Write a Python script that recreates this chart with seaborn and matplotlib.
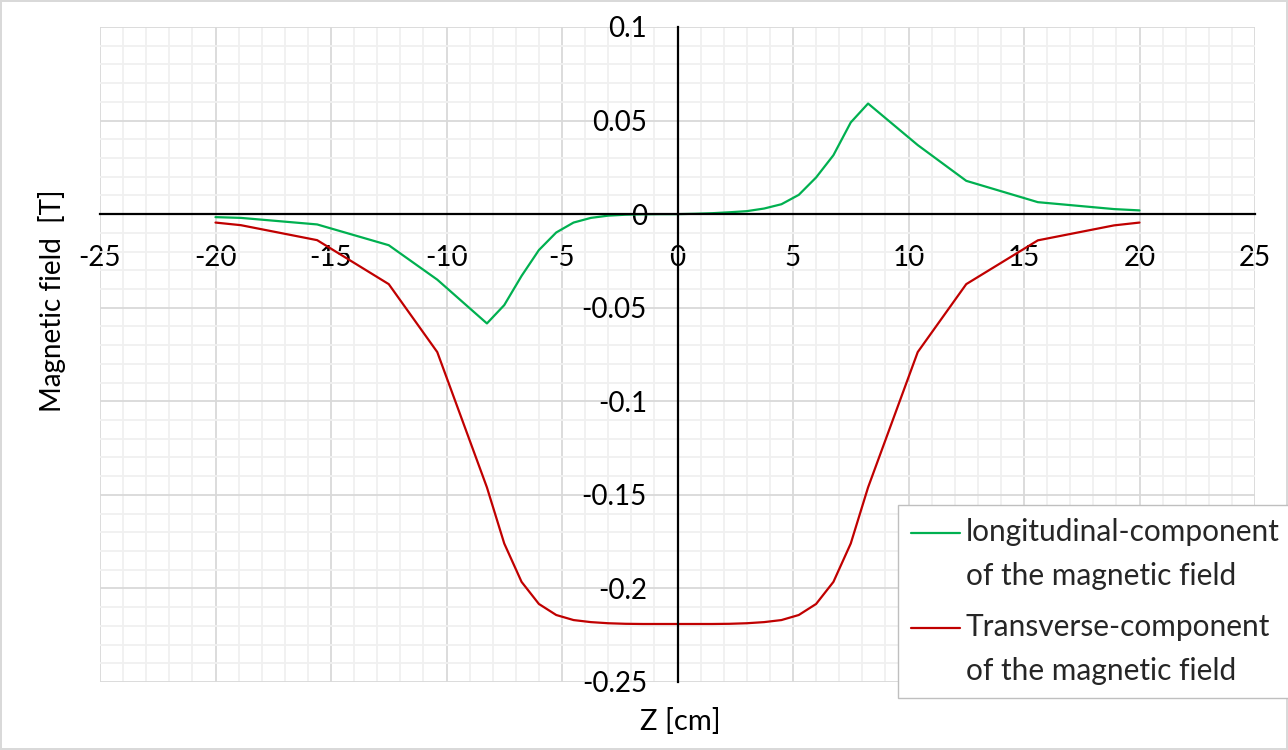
import matplotlib
matplotlib.use("Agg")
import matplotlib.pyplot as plt
from matplotlib.ticker import MultipleLocator, FuncFormatter
from matplotlib.legend_handler import HandlerLine2D
import pandas as pd
import seaborn as sns

# Axial position along the magnet [cm]
z_cm = [-20, -18.9, -15.6, -12.5, -10.4, -8.25, -7.5, -6.75, -6.0, -5.25, -4.5,
        -3.75, -3.0, -2.25, -1.5, -0.75, 0, 0.75, 1.5, 2.25, 3.0, 3.75, 4.5,
        5.25, 6.0, 6.75, 7.5, 8.25, 10.4, 12.5, 15.6, 18.9, 20]

# Longitudinal component of the field [T]
b_long = [-0.0016, -0.0020, -0.0055, -0.0166, -0.0350, -0.0584, -0.0486, -0.0330,
          -0.0192, -0.0098, -0.0045, -0.0020, -0.0008, -0.0003, -0.0001, 0.0, 0.0,
          0.0002, 0.0005, 0.0010, 0.0016, 0.0030, 0.0053, 0.0103, 0.0196, 0.0315,
          0.0490, 0.0591, 0.0369, 0.0178, 0.0064, 0.0027, 0.0020]

# Transverse component of the field [T]
b_trans = [-0.0045, -0.0059, -0.0139, -0.0374, -0.0737, -0.1460, -0.1760, -0.1965,
           -0.2083, -0.2142, -0.2169, -0.2180, -0.2186, -0.2189, -0.2190, -0.2190,
           -0.2190, -0.2190, -0.2190, -0.2189, -0.2186, -0.2180, -0.2169, -0.2142,
           -0.2083, -0.1965, -0.1760, -0.1460, -0.0737, -0.0374, -0.0140, -0.0060,
           -0.0045]

series_names = ["longitudinal-component\nof the magnetic field",
                "Transverse-component\nof the magnetic field"]
series_colors = ["#00B050", "#C00000"]

df = pd.concat([
    pd.DataFrame({"z": z_cm, "B": b_long, "series": series_names[0]}),
    pd.DataFrame({"z": z_cm, "B": b_trans, "series": series_names[1]}),
], ignore_index=True)

sns.set_theme(style="white")
plt.rcParams["font.family"] = ["Lato", "DejaVu Sans"]

W, H, DPI = 1288, 750, 100
fig = plt.figure(figsize=(W / DPI, H / DPI), dpi=DPI)
fig.patch.set_facecolor("white")
fig.patch.set_edgecolor("#d9d9d9")
fig.patch.set_linewidth(1.5)

ax = fig.add_axes([100 / W, 1 - 682 / H, (1255 - 100) / W, (682 - 27) / H])

sns.lineplot(data=df, x="z", y="B", hue="series", hue_order=series_names,
             palette=series_colors, sort=False, estimator=None, ax=ax,
             linewidth=1.6, legend=False, zorder=3)

ax.set_xlim(-25, 25)
ax.set_ylim(-0.25, 0.1)
ax.xaxis.set_major_locator(MultipleLocator(5))
ax.xaxis.set_minor_locator(MultipleLocator(1))
ax.yaxis.set_major_locator(MultipleLocator(0.05))
ax.yaxis.set_minor_locator(MultipleLocator(0.01))

ax.grid(which="major", color="#d9d9d9", linewidth=1.3, zorder=0)
ax.grid(which="minor", color="#f0f0f0", linewidth=1.3, zorder=0)
ax.set_axisbelow(True)

# Axes cross at the origin
ax.spines["left"].set_position(("data", 0))
ax.spines["bottom"].set_position(("data", 0))
for s in ("left", "bottom"):
    ax.spines[s].set_color("black")
    ax.spines[s].set_linewidth(1.6)
    ax.spines[s].set_zorder(4)
for s in ("top", "right"):
    ax.spines[s].set_visible(False)


def fmt_y(v, pos):
    s = f"{v:.2f}".rstrip("0").rstrip(".")
    return "0" if s in ("-0", "0") else s


ax.xaxis.set_major_formatter(FuncFormatter(lambda v, p: f"{v:g}"))
ax.yaxis.set_major_formatter(FuncFormatter(fmt_y))
ax.tick_params(axis="both", which="major", direction="out", length=6, width=1.6,
               color="black", labelsize=20, labelcolor="black")
ax.tick_params(axis="x", which="major", pad=16)
ax.tick_params(axis="y", which="major", pad=16)
ax.tick_params(which="minor", length=0)
ax.set_xlabel("")
ax.set_ylabel("")

fig.text(52 / W, 1 - 301 / H, "Magnetic field  [T]", rotation=90, ha="center",
         va="center", fontsize=20, color="black")
fig.text(680 / W, 1 - 722 / H, "Z [cm]", ha="center", va="center",
         fontsize=21, color="black")

LEG_FS = 21.5
LEG_LS = 1.7


class FirstLineHandler(HandlerLine2D):
    """Line handle aligned with the first line of a two-line label."""

    def create_artists(self, legend, orig_handle, xdescent, ydescent,
                       width, height, fontsize, trans):
        artists = super().create_artists(legend, orig_handle, xdescent,
                                         ydescent, width, height, fontsize,
                                         trans)
        shift = 0.5 * LEG_LS * fontsize * 0.85
        for a in artists:
            a.set_ydata([y + shift for y in a.get_ydata()])
        return artists


handles = [plt.Line2D([], [], color=c, linewidth=1.6) for c in series_colors]
leg = fig.legend(handles, series_names, loc="upper left",
                 bbox_to_anchor=(898 / W, 1 - 505 / H), borderaxespad=0,
                 frameon=True, fontsize=LEG_FS, handlelength=1.65,
                 handletextpad=0.2, labelspacing=0.78, borderpad=0.42,
                 fancybox=False, edgecolor="#bfbfbf", framealpha=1,
                 handler_map={plt.Line2D: FirstLineHandler()})
leg.get_frame().set_linewidth(1.0)
for t in leg.get_texts():
    t.set_linespacing(LEG_LS)

fig.savefig("out.png", dpi=DPI, facecolor="white", edgecolor=fig.get_edgecolor())
